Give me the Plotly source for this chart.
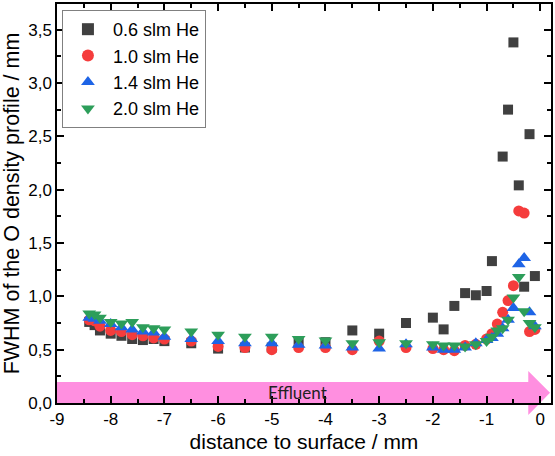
import plotly.graph_objects as go

# ---- data ----
distance = [-8.4, -8.3, -8.2, -8.0, -7.8, -7.6, -7.4, -7.2, -7.0, -6.5, -6.0, -5.5, -5.0,
            -4.5, -4.0, -3.5, -3.0, -2.5, -2.0, -1.8, -1.6, -1.4, -1.2, -1.0, -0.9, -0.8,
            -0.7, -0.6, -0.5, -0.4, -0.3, -0.2, -0.1]

fwhm_06 = [0.76, 0.73, 0.68, 0.65, 0.63, 0.60, 0.59, 0.60, 0.58, 0.56, 0.51, 0.52, 0.52,
           0.57, 0.57, 0.68, 0.65, 0.75, 0.80, 0.69, 0.91, 1.03, 1.01, 1.05, 1.33, None,
           2.31, 2.75, 3.38, 2.04, 1.09, 2.52, 1.19]
fwhm_10 = [0.78, 0.77, 0.72, 0.68, 0.67, 0.64, 0.63, 0.61, 0.60, 0.58, 0.53, 0.52, 0.50,
           0.52, 0.52, 0.50, 0.58, 0.52, 0.51, 0.50, 0.49, 0.54, 0.55, 0.60, 0.65, 0.74,
           0.85, 0.96, 1.10, 1.80, 1.78, 0.67, 0.69]
fwhm_14 = [0.80, 0.79, 0.77, 0.74, 0.71, 0.69, 0.67, 0.66, 0.62, 0.60, 0.58, 0.56, 0.56,
           0.545, 0.54, 0.52, 0.51, 0.55, 0.52, 0.50, 0.50, 0.52, 0.56, 0.59, 0.61, 0.65,
           0.70, 0.78, 0.89, 1.30, 1.36, 0.85, 0.72]
fwhm_20 = [0.84, 0.83, 0.80, 0.76, 0.745, 0.76, 0.71, 0.70, 0.69, 0.67, 0.64, 0.62, 0.62,
           0.60, 0.585, 0.56, 0.57, 0.56, 0.55, 0.54, 0.54, 0.53, 0.55, 0.58, 0.62, 0.68,
           0.70, 0.78, 0.99, 1.18, 0.86, 0.75, 0.71]

series_names = ["0.6 slm He", "1.0 slm He", "1.4 slm He", "2.0 slm He"]
series_values = [fwhm_06, fwhm_10, fwhm_14, fwhm_20]
series_colors = ["#404040", "#F53C3C", "#1E64E6", "#2D9E5A"]
series_symbols = ["square", "circle", "triangle-up", "triangle-down"]
series_sizes = [10, 11, 12, 12]

x_tickvals = [-9, -8, -7, -6, -5, -4, -3, -2, -1, 0]
x_ticktext = ["-9", "-8", "-7", "-6", "-5", "-4", "-3", "-2", "-1", "0"]
y_tickvals = [0.0, 0.5, 1.0, 1.5, 2.0, 2.5, 3.0, 3.5]
y_ticktext = ["0,0", "0,5", "1,0", "1,5", "2,0", "2,5", "3,0", "3,5"]

fig = go.Figure()
for name, vals, col, sym, sz in zip(series_names, series_values, series_colors,
                                    series_symbols, series_sizes):
    fig.add_trace(go.Scatter(
        x=distance, y=vals, mode="markers", name=name,
        marker=dict(symbol=sym, size=sz, color=col, line=dict(width=0)),
    ))

# Effluent arrow (paper coordinates)
pink = "rgb(255,143,224)"
bx1, by1 = 0.954, 0.0525
hy0, hy1, tipx, tipy = -0.03, 0.08, 0.998, 0.026
fig.add_shape(type="path", xref="paper", yref="paper", layer="below",
              path=f"M 0 0 L {bx1} 0 L {bx1} {hy0} L {tipx} {tipy} L {bx1} {hy1} "
                   f"L {bx1} {by1} L 0 {by1} Z",
              fillcolor=pink, line=dict(width=0))
fig.add_annotation(x=-4.52, y=0.027, xref="x", yref="paper", yanchor="middle",
                   text="Effluent", showarrow=False,
                   font=dict(family="Lato", size=17, color="#222222"))

axis_common = dict(
    showline=True, linecolor="black", linewidth=1.5, mirror="allticks",
    ticks="inside", ticklen=7, tickwidth=1.5, tickcolor="black",
    showgrid=False, zeroline=False,
    tickfont=dict(family="Liberation Sans, Arial", size=17, color="black"),
)

fig.update_xaxes(
    range=[-9, 0.2], tickmode="array", tickvals=x_tickvals, ticktext=x_ticktext,
    minor=dict(dtick=0.5, tick0=-9, ticks="inside", ticklen=4, tickwidth=1.5, tickcolor="black"),
    title=dict(text="distance to surface / mm",
               font=dict(family="Liberation Sans, Arial", size=21, color="black"), standoff=6),
    **axis_common)
fig.update_yaxes(
    range=[0, 3.74], tickmode="array", tickvals=y_tickvals, ticktext=y_ticktext,
    minor=dict(dtick=0.25, tick0=0, ticks="inside", ticklen=4, tickwidth=1.5, tickcolor="black"),
    title=dict(text="FWHM of the O density profile / mm",
               font=dict(family="Liberation Sans, Arial", size=21.5, color="black"), standoff=5),
    **axis_common)

fig.update_layout(
    width=555, height=456,
    margin=dict(l=57, r=2, t=3, b=53),
    paper_bgcolor="white", plot_bgcolor="rgba(0,0,0,0)",
    showlegend=True,
    legend=dict(x=0.01, y=0.985, xanchor="left", yanchor="top",
                bgcolor="white", bordercolor="#808080", borderwidth=1,
                font=dict(family="Liberation Sans, Arial", size=18, color="black"),
                tracegroupgap=0, itemsizing="constant", itemwidth=40),
)

fig.write_html("out.html")
